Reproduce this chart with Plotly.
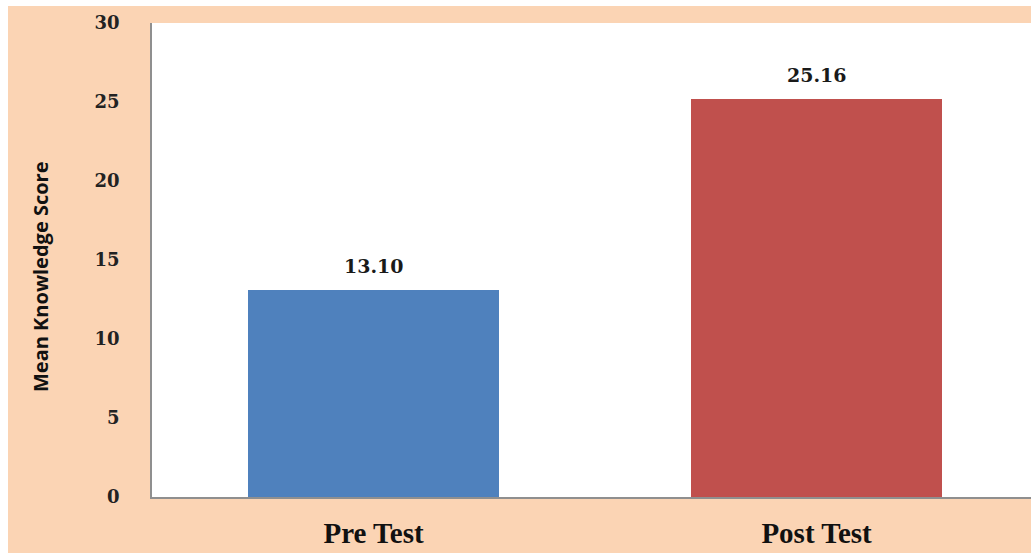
import plotly.graph_objects as go

# Data
categories = ["Pre Test", "Post Test"]
mean_scores = [13.10, 25.16]
bar_colors = ["#4F81BD", "#C0504D"]
y_ticks = [0, 5, 10, 15, 20, 25, 30]

W, H = 1031, 553
PEACH = "#FBD4B4"

fig = go.Figure()
fig.add_trace(go.Bar(
    x=categories,
    y=mean_scores,
    marker=dict(color=bar_colors, line=dict(width=0)),
    width=0.567,
    hoverinfo="skip",
))

# Value labels above each bar
for cat, val in zip(categories, mean_scores):
    fig.add_annotation(
        x=cat, y=val, xref="x", yref="y",
        text=f"{val:.2f}", showarrow=False,
        yanchor="bottom", yshift=11,
        font=dict(family="DejaVu Serif", size=19, color="#1a1a1a", weight="bold"),
    )

# Rotated y-axis title
fig.add_annotation(
    x=(40 - 152) / 879, y=(497 - 277) / 474, xref="paper", yref="paper",
    text="<b>Mean Knowledge Score</b>", textangle=-90, showarrow=False,
    xanchor="center", yanchor="middle",
    font=dict(family="Open Sans", size=20, color="#111111"),
)

# White strips along the top and left edges of the page
fig.add_shape(type="rect", xref="paper", yref="paper",
              x0=-152 / 879, x1=(-152 + 8) / 879, y0=-0.3, y1=1.2,
              fillcolor="white", line=dict(width=0), layer="above")
fig.add_shape(type="rect", xref="paper", yref="paper",
              x0=-152 / 879, x1=1.05, y0=(474 + 17) / 474, y1=1.2,
              fillcolor="white", line=dict(width=0), layer="above")

fig.update_layout(
    width=W, height=H,
    margin=dict(l=152, r=0, t=23, b=56, pad=0, autoexpand=False),
    paper_bgcolor=PEACH,
    plot_bgcolor="white",
    showlegend=False,
    bargap=0,
    xaxis=dict(
        range=[-0.5, 1.484],
        showgrid=False, zeroline=False,
        showline=True, linecolor="#8f8f8f", linewidth=1.5,
        ticks="", ticklabelstandoff=9, automargin=False,
        tickfont=dict(family="Liberation Serif", size=29, color="#111111", weight="bold"),
        fixedrange=True,
    ),
    yaxis=dict(
        range=[0, 30],
        tickvals=y_ticks,
        showgrid=False, zeroline=False,
        showline=True, linecolor="#8f8f8f", linewidth=1.5,
        ticks="", ticklabelstandoff=27, automargin=False,
        tickfont=dict(family="DejaVu Serif", size=18, color="#222222", weight="bold"),
        fixedrange=True,
    ),
)

fig.write_html("out.html", config={"displayModeBar": False})
